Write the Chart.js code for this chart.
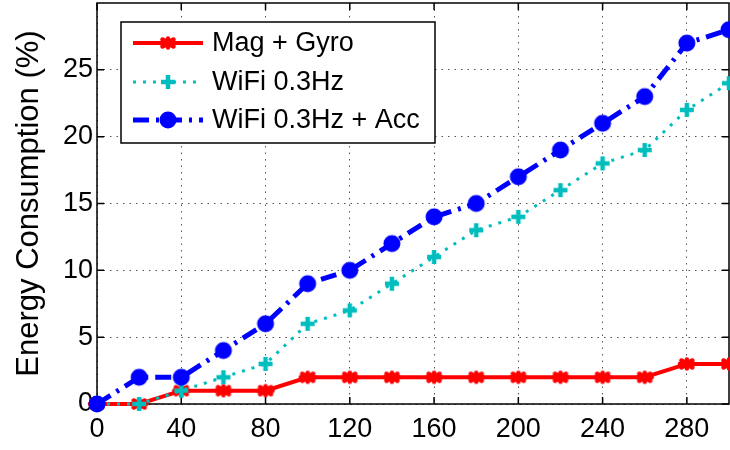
<!DOCTYPE html>
<html>
<head>
<meta charset="utf-8">
<title>Energy Consumption</title>
<script src="https://cdn.jsdelivr.net/npm/chart.js@4.4.1/dist/chart.umd.min.js"></script>
<style>
  html, body { margin: 0; padding: 0; background: #fff; }
  #wrap { width: 730px; height: 450px; }
</style>
</head>
<body>
<div id="wrap"><canvas id="energyChart" width="730" height="450"></canvas></div>
<script>
// time in minutes, energy in percent of battery
const timeMin = [0, 20, 40, 60, 80, 100, 120, 140, 160, 180, 200, 220, 240, 260, 280, 300];
const magGyro = [0, 0, 1, 1, 1, 2, 2, 2, 2, 2, 2, 2, 2, 2, 3, 3];
const wifi = [0, 0, 1, 2, 3, 6, 7, 9, 11, 13, 14, 16, 18, 19, 22, 24];
const wifiAcc = [0, 2, 2, 4, 6, 9, 10, 12, 14, 15, 17, 19, 21, 23, 27, 28];
const seriesNames = ["Mag + Gyro", "WiFi 0.3Hz", "WiFi 0.3Hz + Acc"];
const xTicks = [0, 40, 80, 120, 160, 200, 240, 280];
const yTicks = [0, 5, 10, 15, 20, 25];

const RED = "rgb(255,0,0)";
const CYAN = "rgb(0,190,190)";
const BLUE = "rgb(0,0,255)";
const FONT = "'Liberation Sans', Arial, Helvetica, sans-serif";

// small canvases used as point markers
function makeMarker(w, h, draw) {
  const c = document.createElement("canvas");
  c.width = w;
  c.height = h;
  const g = c.getContext("2d");
  draw(g, w / 2, h / 2);
  return c;
}

const starMarker = makeMarker(22, 18, (g, cx, cy) => {
  g.strokeStyle = RED;
  g.lineWidth = 4.5;
  g.lineCap = "round";
  const arms = [[7, 0], [5.5, 3.5], [5.5, -3.5], [0, 4.5]];
  arms.forEach(([dx, dy]) => {
    g.beginPath();
    g.moveTo(cx - dx, cy - dy);
    g.lineTo(cx + dx, cy + dy);
    g.stroke();
  });
});

const plusMarker = makeMarker(18, 18, (g, cx, cy) => {
  g.strokeStyle = CYAN;
  g.lineWidth = 4.5;
  g.beginPath();
  g.moveTo(cx - 7, cy);
  g.lineTo(cx + 7, cy);
  g.moveTo(cx, cy - 7);
  g.lineTo(cx, cy + 7);
  g.stroke();
});

const dotMarker = makeMarker(20, 20, (g, cx, cy) => {
  g.fillStyle = BLUE;
  g.beginPath();
  g.arc(cx, cy, 8.5, 0, Math.PI * 2);
  g.fill();
});

const toPoints = (ys) => ys.map((y, i) => ({ x: timeMin[i], y }));

const series = [
  { values: magGyro, color: RED, width: 4, dash: [], marker: starMarker, order: 3 },
  { values: wifi, color: CYAN, width: 3, dash: [3, 7], marker: plusMarker, order: 2 },
  { values: wifiAcc, color: BLUE, width: 5, dash: [16, 7, 3, 7], marker: dotMarker, order: 1 },
];

// axes box with inward tick marks, drawn under the lines
const axesBox = {
  id: "axesBox",
  beforeDatasetsDraw(chart) {
    const { ctx, chartArea: a, scales } = chart;
    ctx.save();
    ctx.strokeStyle = "#000";
    ctx.lineWidth = 1.5;
    ctx.strokeRect(a.left, a.top, a.right - a.left, a.bottom - a.top);
    ctx.beginPath();
    xTicks.forEach((v) => {
      const x = scales.x.getPixelForValue(v);
      ctx.moveTo(x, a.bottom);
      ctx.lineTo(x, a.bottom - 7);
      ctx.moveTo(x, a.top);
      ctx.lineTo(x, a.top + 7);
    });
    yTicks.forEach((v) => {
      const y = scales.y.getPixelForValue(v);
      ctx.moveTo(a.left, y);
      ctx.lineTo(a.left + 7, y);
      ctx.moveTo(a.right, y);
      ctx.lineTo(a.right - 7, y);
    });
    ctx.stroke();
    ctx.restore();
  },
};

// axis titles and the boxed legend
const annotations = {
  id: "annotations",
  afterDraw(chart) {
    const { ctx, chartArea: a } = chart;
    ctx.save();
    ctx.fillStyle = "#000";
    ctx.font = "31px " + FONT;
    ctx.textAlign = "center";
    ctx.textBaseline = "alphabetic";
    ctx.fillText("Time (mins)", (a.left + a.right) / 2, 473);

    ctx.save();
    ctx.translate(38, (a.top + a.bottom) / 2);
    ctx.rotate(-Math.PI / 2);
    ctx.fillText("Energy Consumption (%)", 0, 0);
    ctx.restore();

    // legend
    ctx.fillStyle = "#fff";
    ctx.fillRect(121, 22, 314, 121);
    ctx.strokeStyle = "#000";
    ctx.lineWidth = 1.5;
    ctx.strokeRect(121, 22, 314, 121);

    const rows = [43, 82, 120];
    series.forEach((s, i) => {
      const y = rows[i];
      ctx.strokeStyle = s.color;
      ctx.lineWidth = s.width;
      ctx.setLineDash(s.dash);
      ctx.beginPath();
      ctx.moveTo(133, y);
      ctx.lineTo(203, y);
      ctx.stroke();
      ctx.setLineDash([]);
      ctx.drawImage(s.marker, 168 - s.marker.width / 2, y - s.marker.height / 2);
      ctx.fillStyle = "#000";
      ctx.font = "27px " + FONT;
      ctx.textAlign = "left";
      ctx.textBaseline = "middle";
      ctx.fillText(seriesNames[i], 212, y + 1);
    });
    ctx.restore();
  },
};

// keep the plot box fixed: no extra room for overhanging tick labels
function noLabelPadding(scale) {
  scale.paddingLeft = 0;
  scale.paddingRight = 0;
  scale.paddingTop = 0;
  scale.paddingBottom = 0;
}

new Chart(document.getElementById("energyChart"), {
  type: "line",
  data: {
    datasets: series.map((s, i) => ({
      label: seriesNames[i],
      data: toPoints(s.values),
      borderColor: s.color,
      backgroundColor: s.color,
      borderWidth: s.width,
      borderDash: s.dash,
      pointStyle: s.marker,
      pointRadius: 8,
      tension: 0,
      fill: false,
      clip: false,
      order: s.order,
    })),
  },
  options: {
    responsive: false,
    animation: false,
    events: [],
    layout: { autoPadding: false, padding: { left: 0, right: 1, top: 3, bottom: 0 } },
    plugins: { legend: { display: false }, tooltip: { enabled: false } },
    scales: {
      x: {
        type: "linear",
        min: 0,
        max: 300,
        afterBuildTicks: (scale) => { scale.ticks = xTicks.map((v) => ({ value: v })); },
        afterFit: (scale) => { scale.height = 46; noLabelPadding(scale); },
        grid: { color: "#555", lineWidth: 1, drawTicks: false },
        border: { display: false, dash: [1.5, 5] },
        ticks: { color: "#000", font: { family: FONT, size: 27 }, padding: 9, maxRotation: 0 },
      },
      y: {
        type: "linear",
        min: 0,
        max: 30,
        afterBuildTicks: (scale) => { scale.ticks = yTicks.map((v) => ({ value: v })); },
        afterFit: (scale) => { scale.width = 97; noLabelPadding(scale); },
        grid: { color: "#555", lineWidth: 1, drawTicks: false },
        border: { display: false, dash: [1.5, 5] },
        ticks: { color: "#000", font: { family: FONT, size: 27 }, padding: 4 },
      },
    },
  },
  plugins: [axesBox, annotations],
});
</script>
</body>
</html>
